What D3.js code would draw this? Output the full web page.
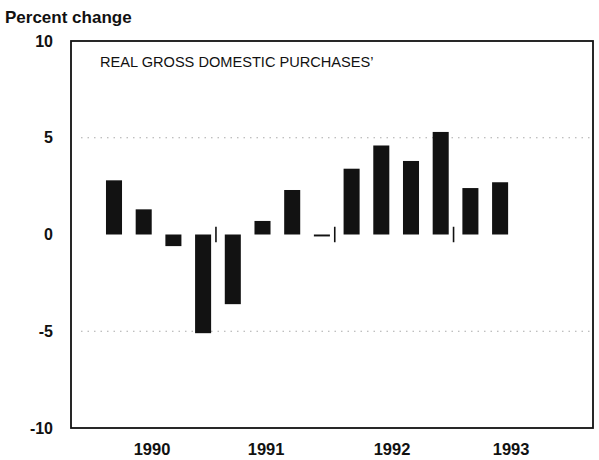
<!DOCTYPE html>
<html>
<head>
<meta charset="utf-8">
<script src="https://cdn.jsdelivr.net/npm/d3@7"></script>
<style>
  body { margin: 0; background: #fff; }
  svg { display: block; }
  text { font-family: "Liberation Sans", Arial, Helvetica, sans-serif; }
</style>
</head>
<body>
<svg id="canvas" width="599" height="460"></svg>
<script>
'use strict';

// quarters on the x axis (room for the whole of 1993)
var quarters = ['90Q1','90Q2','90Q3','90Q4','91Q1','91Q2','91Q3','91Q4',
                '92Q1','92Q2','92Q3','92Q4','93Q1','93Q2','93Q3','93Q4'];
// percent change
var values = [2.8, 1.3, -0.6, -5.1, -3.6, 0.7, 2.3, -0.1,
              3.4, 4.6, 3.8, 5.3, 2.4, 2.7];
var years = ['1990', '1991', '1992', '1993'];
// where the year labels sit, in quarter units
var yearPos = [1.28, 5.12, 9.36, 13.37];
// year separators, in quarter units
var dividers = [3.5, 7.5, 11.5];
var yTicks = [10, 5, 0, -5, -10];
var gridAt = [5, -5];

var frame = {left: 71, right: 593, top: 41, bottom: 428};

var svg = d3.select('svg#canvas');

var x = d3.scaleBand()
  .domain(quarters)
  .range([99.15, 574.35])
  .paddingInner(0.46)
  .paddingOuter(0.23);

var y = d3.scaleLinear()
  .domain([-10, 10])
  .range([frame.bottom, frame.top]);

/* quarter index -> pixel centre */
function xc(i){
  return x(quarters[0]) + x.bandwidth()/2 + i*x.step();
}

/* dotted grid lines */
svg.append('g')
  .selectAll('line')
  .data(gridAt)
  .join('line')
    .attr('x1', frame.left + 10)
    .attr('x2', frame.right)
    .attr('y1', function(d){ return y(d); })
    .attr('y2', function(d){ return y(d); })
    .attr('stroke', '#aaa')
    .attr('stroke-width', 1)
    .attr('stroke-dasharray', '1.5,5');

/* bars */
svg.append('g')
  .selectAll('rect')
  .data(values)
  .join('rect')
    .attr('x', function(d, i){ return x(quarters[i]); })
    .attr('width', x.bandwidth())
    .attr('y', function(d){ return y(Math.max(0, d)); })
    .attr('height', function(d){ return Math.max(1.5, Math.abs(y(d) - y(0))); })
    .attr('fill', '#121212');

/* year separators on the zero line */
svg.append('g')
  .selectAll('line')
  .data(dividers)
  .join('line')
    .attr('x1', function(d){ return xc(d) - 2; })
    .attr('x2', function(d){ return xc(d) - 2; })
    .attr('y1', y(0.4))
    .attr('y2', y(-0.4))
    .attr('stroke', '#111')
    .attr('stroke-width', 1.6);

/* frame */
svg.append('rect')
  .attr('x', frame.left)
  .attr('y', frame.top)
  .attr('width', frame.right - frame.left)
  .attr('height', frame.bottom - frame.top)
  .attr('fill', 'none')
  .attr('stroke', '#111')
  .attr('stroke-width', 1.8);

/* y axis labels (plain hyphen for negatives, as in the print) */
var yAxis = d3.axisLeft(y)
  .tickValues(yTicks)
  .tickSize(0)
  .tickPadding(18)
  .tickFormat(function(d){ return String(d); });

svg.append('g')
  .attr('transform', 'translate(' + frame.left + ',0)')
  .call(yAxis)
  .call(function(g){ g.select('.domain').remove(); })
  .selectAll('text')
    .attr('font-family', '"Liberation Sans", Arial, sans-serif')
    .attr('font-size', 16)
    .attr('font-weight', 'bold')
    .attr('fill', '#111');

/* year labels */
svg.append('g')
  .selectAll('text')
  .data(years)
  .join('text')
    .attr('x', function(d, i){ return xc(yearPos[i]); })
    .attr('y', 455)
    .attr('text-anchor', 'middle')
    .attr('font-size', 16.5)
    .attr('font-weight', 'bold')
    .attr('fill', '#111')
    .text(function(d){ return d; });

/* titles */
svg.append('text')
  .attr('x', 5)
  .attr('y', 23)
  .attr('font-size', 17)
  .attr('font-weight', 'bold')
  .attr('fill', '#111')
  .text('Percent change');

svg.append('text')
  .attr('x', 100)
  .attr('y', 67)
  .attr('font-size', 14.6)
  .attr('fill', '#111')
  .text('REAL GROSS DOMESTIC PURCHASES\u2019');
</script>
</body>
</html>
